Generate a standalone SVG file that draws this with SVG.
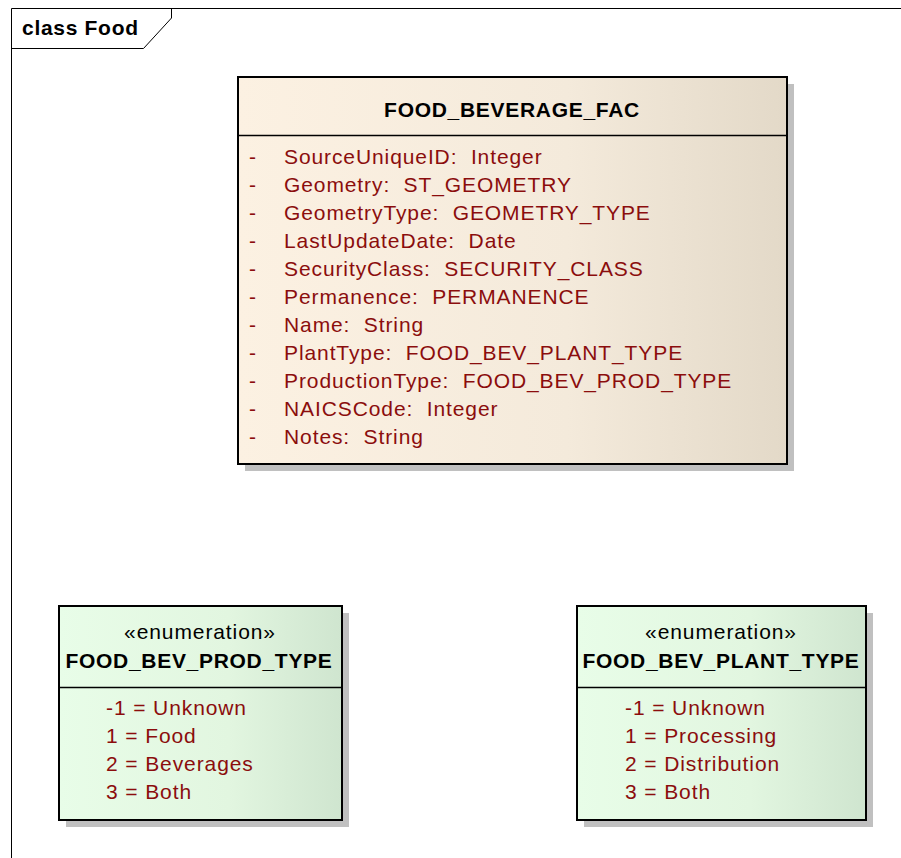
<svg xmlns="http://www.w3.org/2000/svg" width="901" height="858" viewBox="0 0 901 858">
<defs>
<linearGradient id="gc" x1="0" y1="0" x2="1" y2="0">
<stop offset="0" stop-color="#fcf1e2"/>
<stop offset="0.6" stop-color="#f4eadb"/>
<stop offset="1" stop-color="#e3d9c8"/>
</linearGradient>
<linearGradient id="ge" x1="0" y1="0" x2="1" y2="0">
<stop offset="0" stop-color="#e8fde8"/>
<stop offset="0.6" stop-color="#e2f6e0"/>
<stop offset="1" stop-color="#cfe5cf"/>
</linearGradient>
<style>
.frame{fill:none;stroke:#000;stroke-width:1}
.sh{fill:#c0c0c0}
.box{stroke:#000;stroke-width:2}
.div{stroke:#000;stroke-width:1.5}
.t{font-family:"Liberation Sans",Arial,sans-serif;font-size:21px;fill:#000;letter-spacing:0.9px}
.b{font-weight:bold;letter-spacing:0.7px}
.a{font-family:"Liberation Sans",Arial,sans-serif;font-size:21px;fill:#8b0d0d;letter-spacing:0.9px}
</style>
</defs>
<rect width="901" height="858" fill="#fff"/>
<g id="frame">
<path class="frame" d="M11.5,858 V8.5 H901"/>
<path class="frame" d="M11.5,48.5 H143.5 L171.5,18 V8.5"/>
<text class="t b" x="22" y="35">class Food</text>
</g>
<g id="FOOD_BEVERAGE_FAC">
<rect class="sh" x="245" y="84" width="549" height="387"/>
<rect class="box" x="238" y="77" width="549" height="387" fill="url(#gc)"/>
<line class="div" x1="238" y1="135.5" x2="787" y2="135.5"/>
<text class="t b" x="512" y="117" text-anchor="middle">FOOD_BEVERAGE_FAC</text>
<g class="a">
<text x="249" y="164">-</text><text x="284" y="164">SourceUniqueID:&#160;&#160;Integer</text>
<text x="249" y="192">-</text><text x="284" y="192">Geometry:&#160;&#160;ST_GEOMETRY</text>
<text x="249" y="220">-</text><text x="284" y="220">GeometryType:&#160;&#160;GEOMETRY_TYPE</text>
<text x="249" y="248">-</text><text x="284" y="248">LastUpdateDate:&#160;&#160;Date</text>
<text x="249" y="276">-</text><text x="284" y="276">SecurityClass:&#160;&#160;SECURITY_CLASS</text>
<text x="249" y="304">-</text><text x="284" y="304">Permanence:&#160;&#160;PERMANENCE</text>
<text x="249" y="332">-</text><text x="284" y="332">Name:&#160;&#160;String</text>
<text x="249" y="360">-</text><text x="284" y="360">PlantType:&#160;&#160;FOOD_BEV_PLANT_TYPE</text>
<text x="249" y="388">-</text><text x="284" y="388">ProductionType:&#160;&#160;FOOD_BEV_PROD_TYPE</text>
<text x="249" y="416">-</text><text x="284" y="416">NAICSCode:&#160;&#160;Integer</text>
<text x="249" y="444">-</text><text x="284" y="444">Notes:&#160;&#160;String</text>
</g>
</g>
<g id="FOOD_BEV_PROD_TYPE">
<rect class="sh" x="66" y="613" width="283" height="214"/>
<rect class="box" x="59" y="606" width="283" height="214" fill="url(#ge)"/>
<line class="div" x1="59" y1="687.5" x2="342" y2="687.5"/>
<text class="t" x="200" y="639" text-anchor="middle">«enumeration»</text>
<text class="t b" x="199" y="668" text-anchor="middle">FOOD_BEV_PROD_TYPE</text>
<g class="a">
<text x="106" y="715">-1 = Unknown</text>
<text x="106" y="743">1 = Food</text>
<text x="106" y="771">2 = Beverages</text>
<text x="106" y="799">3 = Both</text>
</g>
</g>
<g id="FOOD_BEV_PLANT_TYPE">
<rect class="sh" x="584" y="613" width="289" height="214"/>
<rect class="box" x="577" y="606" width="289" height="214" fill="url(#ge)"/>
<line class="div" x1="577" y1="687.5" x2="866" y2="687.5"/>
<text class="t" x="721" y="639" text-anchor="middle">«enumeration»</text>
<text class="t b" x="721" y="668" text-anchor="middle">FOOD_BEV_PLANT_TYPE</text>
<g class="a">
<text x="625" y="715">-1 = Unknown</text>
<text x="625" y="743">1 = Processing</text>
<text x="625" y="771">2 = Distribution</text>
<text x="625" y="799">3 = Both</text>
</g>
</g>
<g id="connectors"/>
</svg>
